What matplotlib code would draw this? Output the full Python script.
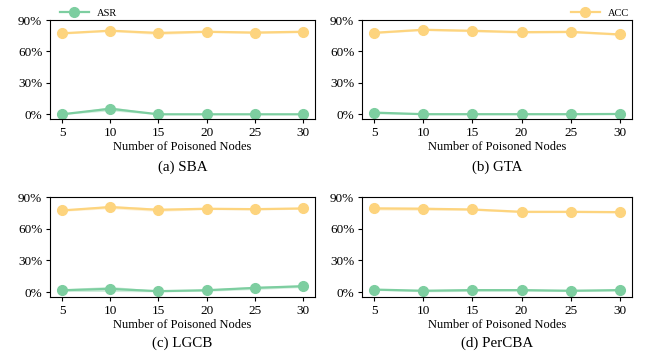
import matplotlib
matplotlib.use("Agg")
import matplotlib.pyplot as plt
import numpy as np
from matplotlib.ticker import FuncFormatter

plt.rcParams['font.family'] = ['Liberation Serif', 'DejaVu Serif']

nodes = [5, 10, 15, 20, 25, 30]
titles = ["(a) SBA", "(b) GTA", "(c) LGCB", "(d) PerCBA"]

acc_sba = [77.3, 79.8, 77.6, 78.8, 78.0, 78.8]
asr_sba = [0.0, 5.3, 0.0, 0.0, 0.0, 0.0]
acc_gta = [77.8, 80.7, 79.7, 78.4, 78.7, 76.2]
asr_gta = [1.6, 0.1, 0.1, 0.1, 0.1, 0.3]
acc_lgcb = [77.3, 80.5, 77.9, 78.9, 78.5, 79.2]
asr_lgcb = [1.9, 3.2, 1.0, 1.9, 4.1, 5.7]
acc_per = [79.2, 78.9, 78.2, 76.0, 76.0, 75.7]
asr_per = [2.5, 1.4, 2.0, 2.0, 1.4, 2.0]

acc_std_sba = [0.8, 0.8, 1.5, 0.8, 1.0, 1.0]
asr_std_sba = [0.3, 2.0, 0.3, 0.3, 0.3, 0.3]
acc_std_gta = [0.8, 0.8, 1.0, 1.0, 1.0, 0.8]
asr_std_gta = [1.2, 0.5, 0.5, 0.5, 0.5, 0.5]
acc_std_lgcb = [0.8, 1.5, 1.5, 0.8, 0.8, 0.8]
asr_std_lgcb = [1.2, 2.5, 0.6, 1.0, 1.5, 1.2]
acc_std_per = [1.5, 1.5, 0.8, 0.8, 0.8, 0.8]
asr_std_per = [0.8, 1.0, 1.2, 1.0, 0.8, 0.8]

accs = [acc_sba, acc_gta, acc_lgcb, acc_per]
asrs = [asr_sba, asr_gta, asr_lgcb, asr_per]
acc_stds = [acc_std_sba, acc_std_gta, acc_std_lgcb, acc_std_per]
asr_stds = [asr_std_sba, asr_std_gta, asr_std_lgcb, asr_std_per]

green = '#7dcea0'
yellow = '#fdd47e'

W, H = 655, 353
fig = plt.figure(figsize=(6.55, 3.53), dpi=100)

boxes = [(50, 20, 315, 119), (362, 20, 632, 119),
         (50, 197, 315, 297), (362, 197, 632, 297)]

axes = []
for i, (l, t, r, b) in enumerate(boxes):
    ax = fig.add_axes([l / W, 1 - b / H, (r - l) / W, (b - t) / H])
    axes.append(ax)
    x = np.array(nodes)
    acc = np.array(accs[i]); asr = np.array(asrs[i])
    sa = np.array(acc_stds[i]); ss = np.array(asr_stds[i])
    ax.fill_between(x, asr - ss, asr + ss, color=green, alpha=0.35, lw=0)
    ax.fill_between(x, acc - sa, acc + sa, color=yellow, alpha=0.35, lw=0)
    l1, = ax.plot(x, asr, color=green, marker='o', markersize=7, lw=1.6, label='ASR')
    l2, = ax.plot(x, acc, color=yellow, marker='o', markersize=7, lw=1.6, label='ACC')
    ax.set_xlim(3.75, 31.25)
    ax.set_ylim(-4.5, 90)
    ax.set_xticks(nodes)
    ax.set_yticks([0, 30, 60, 90])
    ax.yaxis.set_major_formatter(FuncFormatter(lambda v, p: f"{int(v)}%"))
    ax.tick_params(labelsize=9.5, length=3, width=0.8, pad=2.5)
    for s in ax.spines.values():
        s.set_linewidth(0.8)
    ax.set_xlabel("Number of Poisoned Nodes", fontsize=9, labelpad=2)
    cx = (l + r) / 2 / W
    cy = 1 - (167 if i < 2 else 343) / H
    fig.text(cx, cy, titles[i], ha='center', va='center', fontsize=10.8)
    if i == 0:
        ax.legend(handles=[l1], loc='center left', bbox_to_anchor=(0.033, 1.07),
                  frameon=False, fontsize=7.5, handlelength=2.8, borderaxespad=0,
                  borderpad=0.1, handletextpad=0.8)
    if i == 1:
        ax.legend(handles=[l2], loc='center right', bbox_to_anchor=(0.995, 1.07),
                  frameon=False, fontsize=7.5, handlelength=2.8, borderaxespad=0,
                  borderpad=0.1, handletextpad=0.8)

fig.savefig("out.png", dpi=100)
